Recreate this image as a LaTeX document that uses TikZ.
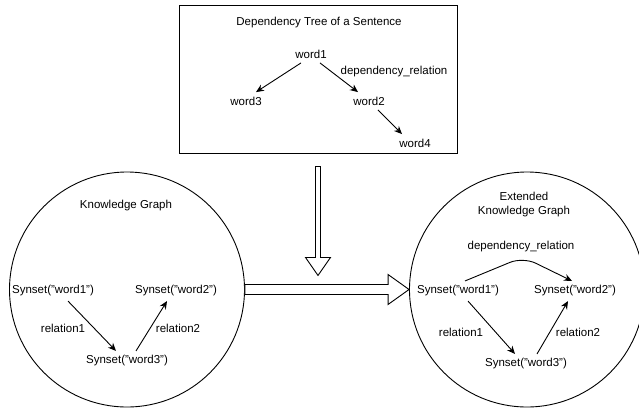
\documentclass[tikz,border=0pt]{standalone}
\usepackage{fontspec}
\setmainfont{Liberation Sans}
\usepackage{tikz}
\usetikzlibrary{arrows.meta, calc}

\begin{document}
\begin{tikzpicture}[x=1pt, y=-1pt,
  every node/.style={font=\fontsize{11.5}{14}\selectfont},
  word/.style={inner xsep=2pt, inner ysep=4.5pt},
  link/.style={-{Stealth[length=8pt, width=7pt]}, line width=0.9pt},
  hollow/.style={draw, line width=0.9pt, fill=white, line join=miter}]

\useasboundingbox (0,0) rectangle (639,408);
\clip (0,0) rectangle (639,408);

% Sentence box
\node[draw, line width=0.9pt, minimum width=278pt, minimum height=148pt] (tree) at (318,79) {};
\node (treetitle) at (319,23) {Dependency Tree of a Sentence};
\node[word] (tw1) at (311,54) {word1};
\node[word] (tw3) at (246,101) {word3};
\node[word] (tw2) at (369,101) {word2};
\node[word] (tw4) at (415,143) {word4};
\node (treedep) at (394,72) {dependency\_relation};

\draw[link] ([xshift=-10pt]tw1.south) -- ([xshift=10pt]tw3.north);
\draw[link] ([xshift=9pt]tw1.south) -- ([xshift=-11pt]tw2.north);
\draw[link] ([xshift=9pt]tw2.south) -- ([xshift=-13pt]tw4.north);

% Knowledge graphs
\node[draw, circle, minimum size=235pt, inner sep=0pt, line width=0.9pt] (kg) at (127,289.5) {};
\node[draw, circle, minimum size=235pt, inner sep=0pt, line width=0.9pt] (ekg) at (527,289.5) {};

\node (kgtitle) at (126,206) {Knowledge Graph};
\node[word] (lw1) at (53,291) {Synset("word1")};
\node[word] (lw2) at (176,291) {Synset("word2")};
\node[word] (lw3) at (127,361) {Synset("word3")};
\node (lrel1) at (63,328) {relation1};
\node (lrel2) at (178,328) {relation2};

\draw[link] ([xshift=15pt]lw1.south) -- ([xshift=-11pt]lw3.north);
\draw[link] ([xshift=9pt]lw3.north) -- ([xshift=-9pt]lw2.south);

\node[align=center] (ekgtitle) at (524,205) {Extended\\Knowledge Graph};
\node[word] (rw1) at (458,291) {Synset("word1")};
\node[word] (rw2) at (575,291) {Synset("word2")};
\node[word] (rw3) at (526,364) {Synset("word3")};
\node (rrel1) at (461,332) {relation1};
\node (rrel2) at (578,332) {relation2};
\node (rdep) at (521,247) {dependency\_relation};
\coordinate (peak) at (523,257);

\draw[link, rounded corners=14pt] ([xshift=7pt]rw1.north) -- (peak) -- ([xshift=-3pt]rw2.north);
\draw[link] ([xshift=10pt]rw1.south) -- ([xshift=-11pt]rw3.north);
\draw[link] ([xshift=11pt]rw3.north) -- ([xshift=-7pt]rw2.south);

% Flow arrows
\draw[hollow] ($(tree.south)+(-2.5,13)$) -- ($(tree.south)+(-2.5,104)$)
  -- ($(tree.south)+(-12.5,104)$) -- ($(tree.south)+(0,122)$)
  -- ($(tree.south)+(12.5,104)$) -- ($(tree.south)+(2.5,104)$)
  -- ($(tree.south)+(2.5,13)$) -- cycle;
\draw[hollow] ($(kg.east)+(0,-5)$) -- ($(ekg.west)+(-21,-5)$)
  -- ($(ekg.west)+(-21,-15)$) -- (ekg.west)
  -- ($(ekg.west)+(-21,15)$) -- ($(ekg.west)+(-21,5)$)
  -- ($(kg.east)+(0,5)$) -- cycle;

\end{tikzpicture}
\end{document}
